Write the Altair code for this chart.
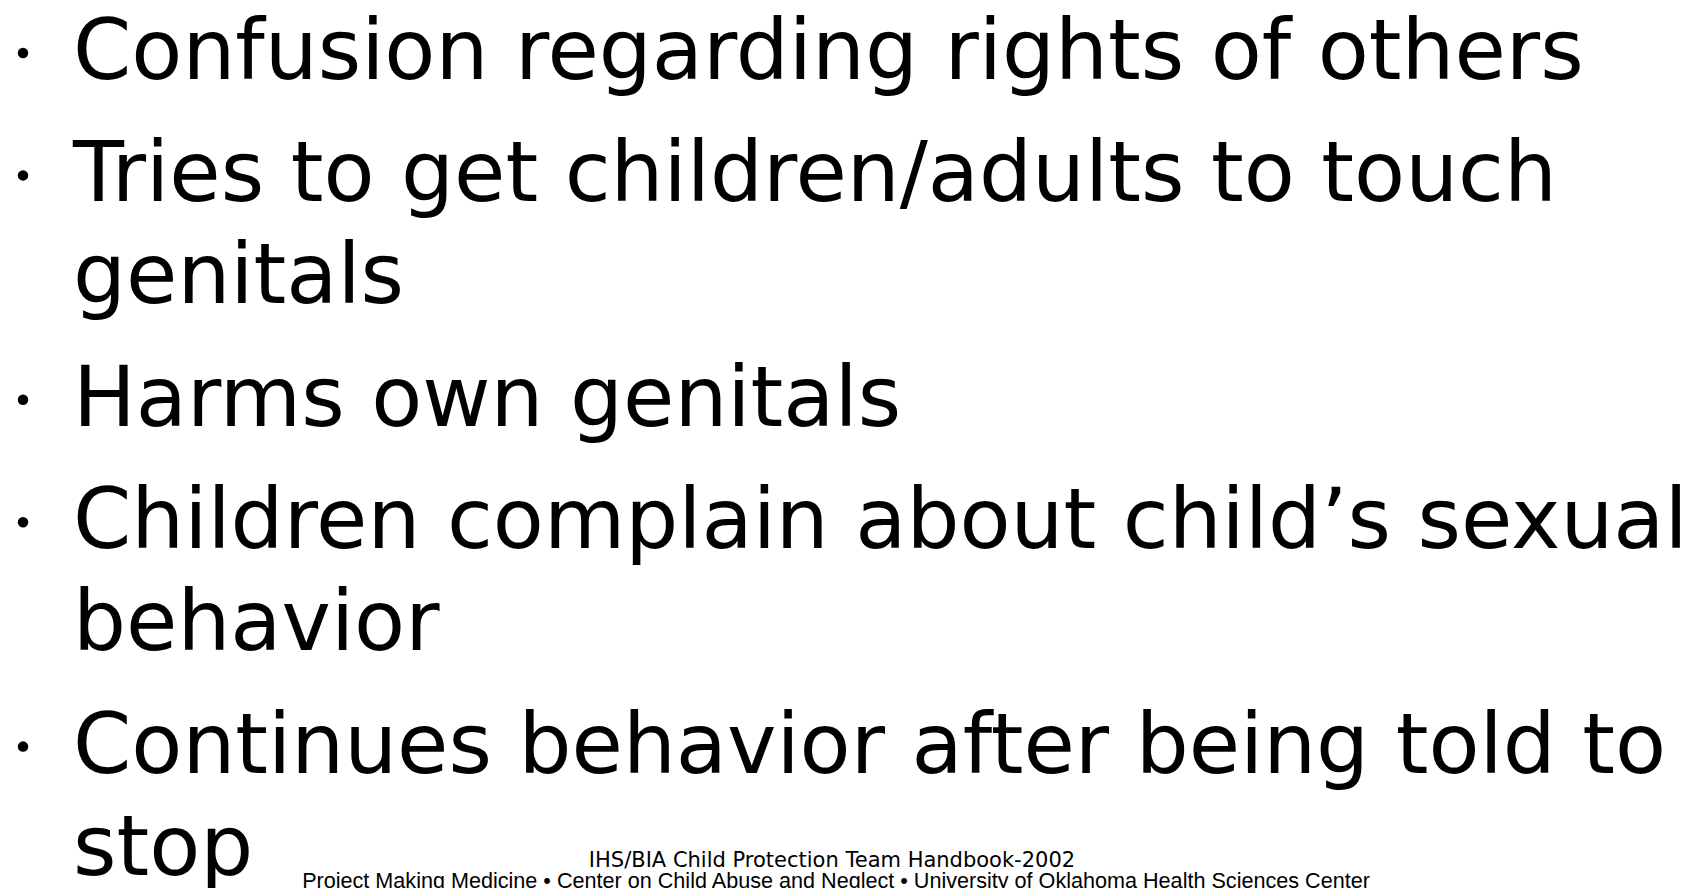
import altair as alt
import pandas as pd

# Slide content: each bullet with its wrapped lines
bullets = [
    ["Confusion regarding rights of others"],
    ["Tries to get children/adults to touch", "genitals"],
    ["Harms own genitals"],
    ["Children complain about child\u2019s sexual", "behavior"],
    ["Continues behavior after being told to", "stop"],
]
footer_title = ["IHS/BIA Child Protection Team Handbook-2002"]
footer_credit = ["Project Making Medicine \u2022 Center on Child Abuse and Neglect \u2022 University of Oklahoma Health Sciences Center"]

# layout in "line units"
BULLET_GAP = 0.2
rows = []
marks = []
u = 0.0
for bi, lines in enumerate(bullets):
    if bi > 0:
        u += 1.0 + BULLET_GAP
    for li, t in enumerate(lines):
        if li > 0:
            u += 1.0
        rows.append({"text": t, "u": u})
        if li == 0:
            marks.append({"u": u - 0.255})

lines_df = pd.DataFrame(rows)
marks_df = pd.DataFrame(marks)
foot1_df = pd.DataFrame({"text": footer_title, "u": [7.725]})
foot2_df = pd.DataFrame({"text": footer_credit, "u": [7.93]})

yscale = alt.Scale(domain=[-71 / 102, (880 - 71) / 102], reverse=True, nice=False, zero=False)

text_layer = alt.Chart(lines_df).mark_text(
    align="left", baseline="alphabetic", font="DejaVu Sans", fontSize=83.5, color="black"
).encode(
    x=alt.value(65),
    y=alt.Y("u:Q", scale=yscale, axis=None),
    text="text:N",
)

bullet_layer = alt.Chart(marks_df).mark_circle(size=110, color="black", opacity=1).encode(
    x=alt.value(15),
    y=alt.Y("u:Q", scale=yscale, axis=None),
)

foot1 = alt.Chart(foot1_df).mark_text(
    align="center", baseline="alphabetic", font="DejaVu Sans", fontSize=21, color="black"
).encode(
    x=alt.value(824),
    y=alt.Y("u:Q", scale=yscale, axis=None),
    text="text:N",
)

foot2 = alt.Chart(foot2_df).mark_text(
    align="center", baseline="alphabetic", font="Liberation Sans", fontSize=21.6, color="black"
).encode(
    x=alt.value(828),
    y=alt.Y("u:Q", scale=yscale, axis=None),
    text="text:N",
)

chart = alt.layer(text_layer, bullet_layer, foot1, foot2).properties(
    width=1682, height=880, padding=0, background="white"
).configure_view(stroke=None)

chart.save("out.html", embed_options={"renderer": "svg", "actions": False})
